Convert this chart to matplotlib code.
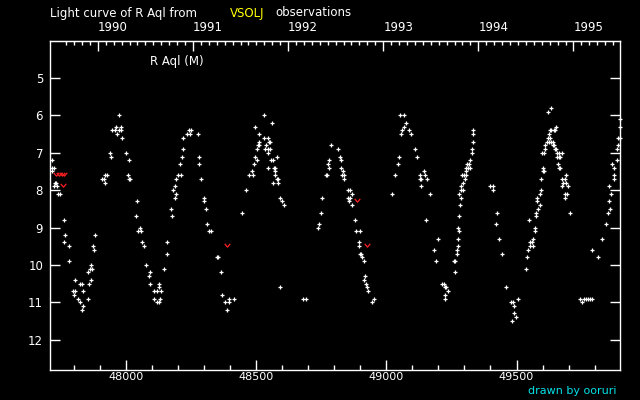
import numpy as np
import matplotlib
matplotlib.use("Agg")
import matplotlib.pyplot as plt
from matplotlib.path import Path

# visual estimates of R Aql (JD - 2400000, magnitude)
jd = [
    47718, 47718, 47726, 47718, 47728, 47732, 47726, 47735, 47739, 47748,
    47764, 47768, 47764, 47783, 47783, 47883, 47876, 47879, 47868, 47872,
    47864, 47856, 47806, 47826, 47830, 47868, 47860, 47799, 47806, 47803,
    47837, 47818, 47826, 47853, 47837, 47833,
    47975, 47964, 47983, 47948, 47960, 47972, 47983, 47968, 47987, 47941,
    47945, 48002, 48014, 47922, 47929, 47910, 47918, 47922, 48010, 48014,
    48018, 48044, 48041, 48056, 48048, 48060, 48064, 48068, 48079, 48094,
    48091, 48094, 48129, 48129, 48110, 48121, 48137, 48110, 48133, 48121,
    48129, 48160, 48160, 48148,
    48175, 48179, 48190, 48194, 48183, 48190, 48194, 48202, 48213, 48210,
    48217, 48221, 48221, 48236, 48244, 48252, 48248, 48279, 48282, 48282,
    48290, 48302, 48302, 48309, 48313, 48321, 48329, 48352, 48355, 48367,
    48371, 48398, 48417, 48382, 48398, 48390,
    48448, 48463, 48474, 48490, 48486, 48494, 48505, 48497, 48505, 48509,
    48513, 48513, 48513, 48497, 48532, 48563, 48532, 48547, 48551, 48555,
    48540, 48536, 48547, 48555, 48547, 48559, 48567, 48582, 48547, 48570,
    48574, 48574, 48574, 48582, 48586, 48567, 48586, 48593, 48601, 48609,
    48593, 48682, 48693,
    48755, 48751, 48743, 48739, 48789, 48816, 48782, 48778, 48782, 48774,
    48770, 48824, 48828, 48828, 48835, 48831, 48839, 48839,
    48854, 48862, 48870, 48854, 48862, 48858, 48870, 48881, 48885, 48901,
    48897, 48897, 48901, 48904, 48908, 48916, 48920, 48916, 48924, 48927,
    48931, 48954, 48947,
    49023, 49035, 49046, 49050, 49054, 49069, 49077, 49069, 49062, 49058,
    49089, 49096, 49112, 49119, 49146, 49150, 49131, 49131, 49135, 49158,
    49135, 49169, 49154,
    49200, 49185, 49192, 49215, 49223, 49227, 49231, 49238, 49227, 49227,
    49265, 49261, 49265, 49273, 49273, 49277, 49277, 49281, 49277, 49281,
    49284, 49288, 49281, 49288, 49296, 49288, 49296, 49292, 49300, 49307,
    49304, 49307, 49307, 49315, 49323, 49311, 49319, 49323, 49330, 49330,
    49334, 49334, 49334,
    49400, 49411, 49411, 49426, 49423, 49434, 49446, 49461, 49507, 49480,
    49488, 49492, 49492, 49499, 49484,
    49538, 49542, 49545, 49553, 49565, 49553, 49561, 49565, 49572, 49572,
    49549, 49574, 49574, 49584, 49592, 49580, 49580, 49592, 49595, 49595,
    49603, 49607, 49603, 49599, 49607, 49611, 49611, 49618, 49626, 49634,
    49641, 49622, 49630, 49626, 49630, 49634, 49645, 49649, 49653, 49622,
    49634,
    49641, 49645, 49649, 49653, 49657, 49664, 49676, 49657, 49664, 49668,
    49661, 49664, 49668, 49691, 49676, 49687, 49680, 49691, 49676, 49699,
    49687, 49695, 49687, 49707,
    49745, 49760, 49768, 49776, 49783, 49791, 49753,
    49791, 49814, 49829, 49845, 49853, 49860, 49856, 49864, 49856, 49876,
    49868, 49873, 49873, 49887, 49887, 49891, 49891, 49899, 49899, 49899,
]
mag = [
    7.2, 7.4, 7.4, 7.5, 7.8, 7.8, 7.9, 7.9, 8.1, 8.1,
    8.8, 9.2, 9.4, 9.5, 9.9, 9.2, 9.5, 9.6, 10.0, 10.1,
    10.1, 10.2, 10.4, 10.5, 10.5, 10.4, 10.5, 10.7, 10.7, 10.8,
    10.7, 10.9, 11.0, 10.9, 11.1, 11.2,
    6.0, 6.3, 6.3, 6.4, 6.4, 6.4, 6.4, 6.5, 6.6, 7.0,
    7.1, 7.0, 7.2, 7.6, 7.6, 7.7, 7.7, 7.8, 7.6, 7.7,
    7.7, 8.3, 8.7, 9.0, 9.1, 9.1, 9.4, 9.5, 10.0, 10.2,
    10.3, 10.5, 10.5, 10.6, 10.7, 10.7, 10.7, 10.9, 10.9, 11.0,
    11.0, 9.4, 9.7, 10.1,
    8.5, 8.7, 8.2, 8.1, 8.0, 7.9, 7.7, 7.6, 7.6, 7.3,
    7.1, 6.9, 6.6, 6.5, 6.4, 6.4, 6.5, 6.5, 7.1, 7.3,
    7.7, 8.2, 8.3, 8.5, 8.9, 9.1, 9.1, 9.8, 9.8, 10.2,
    10.8, 10.9, 10.9, 11.0, 11.0, 11.2,
    8.6, 8.0, 7.6, 7.6, 7.5, 7.3, 7.2, 7.1, 6.9, 6.8,
    6.8, 6.7, 6.5, 6.3, 6.0, 6.2, 6.6, 6.6, 6.7, 6.7,
    6.8, 6.9, 6.9, 6.9, 7.0, 7.2, 7.2, 7.1, 7.4, 7.4,
    7.4, 7.5, 7.6, 7.7, 7.7, 7.8, 7.8, 8.2, 8.3, 8.4,
    10.6, 10.9, 10.9,
    8.2, 8.6, 8.9, 9.0, 6.8, 6.9, 7.2, 7.3, 7.4, 7.6,
    7.6, 7.1, 7.2, 7.4, 7.5, 7.6, 7.6, 7.7,
    8.0, 8.0, 8.1, 8.2, 8.2, 8.3, 8.4, 8.8, 9.1, 9.1,
    9.4, 9.5, 9.7, 9.7, 9.8, 9.9, 10.3, 10.4, 10.5, 10.6,
    10.7, 10.9, 11.0,
    8.1, 7.6, 7.3, 7.1, 6.0, 6.0, 6.2, 6.3, 6.4, 6.5,
    6.4, 6.5, 6.9, 7.1, 7.5, 7.6, 7.6, 7.7, 7.7, 7.7,
    7.9, 8.1, 8.8,
    9.3, 9.6, 9.9, 10.5, 10.5, 10.6, 10.6, 10.7, 10.8, 10.9,
    10.2, 9.9, 9.9, 9.6, 9.7, 9.5, 9.3, 9.1, 9.0, 8.7,
    8.4, 8.2, 8.1, 8.0, 8.0, 7.9, 7.8, 7.6, 7.6, 7.6,
    7.7, 7.5, 7.4, 7.4, 7.4, 7.3, 7.3, 7.2, 7.0, 6.9,
    6.7, 6.4, 6.5,
    7.9, 7.9, 8.0, 8.6, 8.9, 9.3, 9.7, 10.6, 10.9, 11.0,
    11.0, 11.1, 11.3, 11.4, 11.5,
    10.1, 9.8, 9.6, 9.5, 9.5, 9.4, 9.4, 9.3, 9.1, 9.0,
    8.8, 8.7, 8.6, 8.5, 8.4, 8.3, 8.2, 8.1, 8.0, 7.7,
    7.5, 7.5, 7.4, 7.0, 7.0, 6.9, 6.8, 6.7, 6.7, 6.7,
    6.7, 6.6, 6.6, 6.5, 6.4, 6.4, 6.4, 6.4, 6.3, 5.9,
    5.8,
    6.8, 6.8, 6.9, 6.9, 7.0, 7.0, 7.0, 7.1, 7.1, 7.1,
    7.3, 7.4, 7.4, 7.6, 7.7, 7.7, 7.8, 7.8, 7.9, 7.9,
    8.1, 8.1, 8.2, 8.6,
    10.9, 10.9, 10.9, 10.9, 10.9, 10.9, 11.0,
    9.6, 9.8, 9.3, 8.9, 8.6, 8.5, 8.3, 8.1, 7.9, 7.4,
    7.3, 7.6, 7.7, 7.2, 6.9, 6.8, 6.6, 6.6, 6.3, 6.1,
]

# "fainter than" estimates (red)
jd_fnt = [47732, 47744, 47755, 47763, 47760, 48390, 48889, 48927]
mag_fnt = [7.57, 7.57, 7.57, 7.57, 7.87, 9.48, 8.26, 9.48]

years = [1990, 1991, 1992, 1993, 1994, 1995]

fig = plt.figure(figsize=(6.4, 4.0), dpi=100, facecolor='black')
ax = fig.add_axes([50/640, 29.7/400, 570.3/640, 329.6/400])
ax.set_facecolor('black')

ax.plot(jd, mag, linestyle='none', marker='+', color='white',
        markersize=3.2, markeredgewidth=0.9, clip_on=False)

vmark = Path([(-1, 0.6), (0, -0.6), (1, 0.6)], [Path.MOVETO, Path.LINETO, Path.LINETO])
ax.plot(jd_fnt, mag_fnt, linestyle='none', marker=vmark, color='#ff2020',
        markersize=4, markeredgewidth=0.9, markerfacecolor='none')

ax.set_xlim(47709, 49898.5)
ax.set_ylim(12.82, 4.0)

for s in ax.spines.values():
    s.set_color('white')
    s.set_linewidth(1.0)

ax.set_xticks([48000, 48500, 49000, 49500])
ax.set_xticks(np.arange(47800, 49900, 100), minor=True)
ax.set_yticks(range(5, 13))
ax.tick_params(axis='x', which='major', direction='in', length=7.2, width=1,
               colors='white', labelsize=8, pad=1.5, top=False)
ax.tick_params(axis='x', which='minor', direction='in', length=3.6, width=1,
               colors='white', top=False)
ax.tick_params(axis='y', which='major', direction='in', length=7.2, width=1,
               colors='white', labelsize=8.5, pad=5, right=True)
ax.xaxis.set_major_formatter(matplotlib.ticker.FormatStrFormatter('%d'))

# calendar years along the top
def jd2yr(x):
    return 1990 + (np.asarray(x) - 47892.5) / 365.25

def yr2jd(y):
    return 47892.5 + (np.asarray(y) - 1990) * 365.25

sec = ax.secondary_xaxis('top', functions=(jd2yr, yr2jd))
sec.set_xticks(years)
sec.set_xticks(np.arange(1989 + 8/12, 1996, 1/12), minor=True)
sec.xaxis.set_major_formatter(matplotlib.ticker.FormatStrFormatter('%d'))
sec.tick_params(which='major', direction='in', length=7.2, width=1,
                colors='white', labelsize=8.5, pad=5)
sec.tick_params(which='minor', direction='in', length=2.8, width=1, colors='white')
sec.spines['top'].set_color('white')
for lab in sec.get_xticklabels():
    lab.set_ha('left')

ax.text(150.5/640, 1 - 61/400, 'R Aql (M)', transform=fig.transFigure,
        color='white', fontsize=8.5, va='center', ha='left')

fig.text(50/640, 1 - 13/400, 'Light curve of R Aql from', color='white',
         fontsize=8.5, va='center', ha='left')
fig.text(230/640, 1 - 13/400, 'VSOLJ', color='#ffff00',
         fontsize=8.5, va='center', ha='left')
fig.text(275/640, 1 - 13/400, 'observations', color='white',
         fontsize=8.5, va='center', ha='left')
fig.text(617/640, 1 - 391.5/400, 'drawn by ooruri', color='#00e0e8',
         fontsize=8, va='center', ha='right')

fig.savefig('out.png', dpi=100, facecolor='black')
